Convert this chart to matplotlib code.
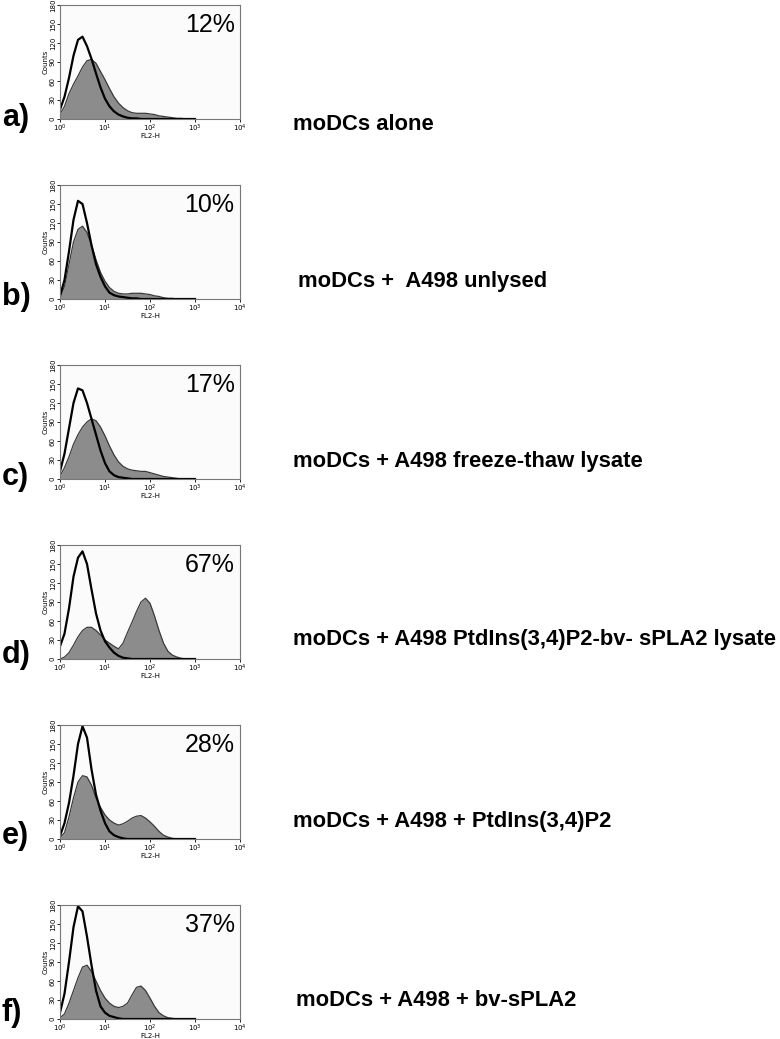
import numpy as np
import matplotlib
matplotlib.use("Agg")
import matplotlib.pyplot as plt
from matplotlib.ticker import FixedLocator, NullLocator, FixedFormatter

# log10 fluorescence bin positions (FL2-H), 0.1-decade bins
bin_log = [0.0, 0.1, 0.2, 0.3, 0.4, 0.5, 0.6, 0.7, 0.8, 0.9, 1.0,
           1.1, 1.2, 1.3, 1.4, 1.5, 1.6, 1.7, 1.8, 1.9, 2.0,
           2.1, 2.2, 2.3, 2.4, 2.5, 2.6, 2.7, 2.8, 2.9, 3.0]

panel_letters = ["a)", "b)", "c)", "d)", "e)", "f)"]
panel_titles = ["moDCs alone",
                "moDCs +  A498 unlysed",
                "moDCs + A498 freeze-thaw lysate",
                "moDCs + A498 PtdIns(3,4)P2-bv- sPLA2 lysate",
                "moDCs + A498 + PtdIns(3,4)P2",
                "moDCs + A498 + bv-sPLA2"]
percentages = ["12%", "10%", "17%", "67%", "28%", "37%"]

# open (control) histograms
a_open = [15, 35, 65, 100, 125, 130, 115, 95, 72, 50, 32, 20, 12, 7, 4, 2, 1, 1, 0, 0, 0, 0, 0, 0, 0, 0, 0, 0, 0, 0, 0]
b_open = [5, 30, 75, 125, 155, 150, 120, 85, 55, 35, 20, 10, 6, 4, 3, 2, 1, 1, 0, 0, 0, 0, 0, 0, 0, 0, 0, 0, 0, 0, 0]
c_open = [12, 40, 80, 120, 143, 140, 120, 95, 70, 45, 25, 12, 6, 3, 2, 1, 0, 0, 0, 0, 0, 0, 0, 0, 0, 0, 0, 0, 0, 0, 0]
d_open = [20, 40, 80, 130, 160, 170, 150, 110, 72, 45, 28, 18, 10, 5, 2, 1, 0, 0, 0, 0, 0, 0, 0, 0, 0, 0, 0, 0, 0, 0, 0]
e_open = [5, 25, 57, 100, 150, 178, 160, 110, 70, 45, 25, 12, 6, 3, 1, 0, 0, 0, 0, 0, 0, 0, 0, 0, 0, 0, 0, 0, 0, 0, 0]
f_open = [10, 40, 90, 145, 178, 170, 130, 85, 45, 20, 10, 5, 3, 1, 0, 0, 0, 0, 0, 0, 0, 0, 0, 0, 0, 0, 0, 0, 0, 0, 0]

# filled (stained) histograms
a_fill = [8, 20, 40, 55, 68, 82, 92, 94, 88, 75, 62, 48, 35, 25, 18, 13, 10, 9, 9, 9, 8, 7, 5, 4, 3, 2, 1, 1, 0, 0, 0]
b_fill = [3, 20, 55, 90, 110, 115, 105, 85, 62, 42, 28, 18, 12, 9, 8, 8, 9, 9, 9, 8, 7, 5, 4, 2, 1, 1, 0, 0, 0, 0, 0]
c_fill = [5, 18, 35, 55, 70, 82, 90, 95, 92, 82, 68, 52, 38, 27, 20, 16, 14, 13, 12, 12, 10, 8, 6, 4, 3, 2, 1, 0, 0, 0, 0]
d_fill = [0, 3, 10, 22, 35, 45, 50, 50, 45, 38, 30, 25, 20, 16, 25, 42, 58, 75, 90, 96, 88, 68, 45, 25, 12, 6, 3, 1, 0, 0, 0]
e_fill = [2, 10, 35, 65, 90, 100, 98, 85, 65, 50, 38, 30, 25, 22, 24, 28, 33, 36, 37, 33, 27, 20, 12, 6, 3, 1, 0, 0, 0, 0, 0]
f_fill = [2, 8, 25, 45, 65, 82, 85, 75, 60, 45, 33, 25, 20, 18, 20, 25, 38, 50, 52, 45, 33, 20, 10, 5, 2, 1, 0, 0, 0, 0, 0]

open_series = [a_open, b_open, c_open, d_open, e_open, f_open]
fill_series = [a_fill, b_fill, c_fill, d_fill, e_fill, f_fill]

y_ticks = [0, 30, 60, 90, 120, 150, 180]
x_ticks = [1, 10, 100, 1000, 10000]
x_tick_labels = [r"$10^0$", r"$10^1$", r"$10^2$", r"$10^3$", r"$10^4$"]

W, H = 780, 1039
fig = plt.figure(figsize=(W / 100, H / 100), dpi=100)
fig.patch.set_facecolor("white")

ax_left, ax_w, ax_h = 60, 180, 114
ax_tops = [5, 185, 365, 545, 725, 905]
title_x = [293, 298, 293, 293, 293, 296]
title_y = [125, 282, 462, 640, 822, 1000]
letter_y = [118, 297, 477, 655, 836, 1013]

x_vals = [10 ** v for v in bin_log]

for i in range(6):
    top = ax_tops[i]
    ax = fig.add_axes([ax_left / W, 1 - (top + ax_h) / H, ax_w / W, ax_h / H])
    ax.set_facecolor("#fbfbfb")
    ax.set_xscale("log")
    ax.set_xlim(1, 10000)
    ax.set_ylim(0, 180)
    ax.fill_between(x_vals, fill_series[i], 0, color="#8c8c8c", linewidth=0)
    ax.plot(x_vals, fill_series[i], color="#3a3a3a", linewidth=0.9)
    ax.plot(x_vals, open_series[i], color="black", linewidth=1.6)
    ax.xaxis.set_major_locator(FixedLocator(x_ticks))
    ax.xaxis.set_major_formatter(FixedFormatter(x_tick_labels))
    ax.xaxis.set_minor_locator(NullLocator())
    ax.set_yticks(y_ticks)
    ax.tick_params(axis="both", labelsize=5, length=2, width=0.6, pad=1)
    for lab in ax.get_yticklabels():
        lab.set_rotation(90)
        lab.set_va("center")
    ax.set_ylabel("Counts", fontsize=5, labelpad=1)
    ax.set_xlabel("FL2-H", fontsize=5, labelpad=-1)
    for s in ax.spines.values():
        s.set_color("#777777")
        s.set_linewidth(0.8)
    ax.text(0.97, 0.93, percentages[i], transform=ax.transAxes, ha="right", va="top",
            fontsize=18, family="Liberation Sans")
    fig.text(2 / W, 1 - letter_y[i] / H, panel_letters[i], ha="left", va="center",
             fontsize=22, fontweight="bold", family="Liberation Sans")
    fig.text(title_x[i] / W, 1 - title_y[i] / H, panel_titles[i], ha="left", va="center",
             fontsize=15.8, fontweight="bold", family="Liberation Sans")

fig.savefig("out.png", dpi=100)
